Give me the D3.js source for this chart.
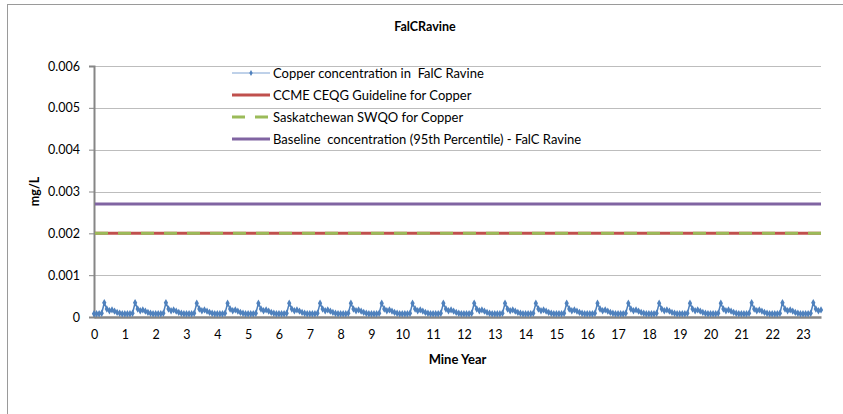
<!DOCTYPE html>
<html>
<head>
<meta charset="utf-8">
<script src="https://cdn.jsdelivr.net/npm/d3@7"></script>
<style>
  html, body { margin: 0; padding: 0; background: #fff; }
  svg { display: block; }
  text { font-family: Lato, "Open Sans", sans-serif; fill: #000; }
</style>
</head>
<body>
<svg id="chart" width="843" height="414"></svg>
<script>
// ---------- data ----------
const title = "FalCRavine";
const xTitle = "Mine Year";
const yTitle = "mg/L";
const xTicks = d3.range(0, 24);             // 0 .. 23
const yTicks = [0, 0.001, 0.002, 0.003, 0.004, 0.005, 0.006];
const yTickLabels = ["0", "0.001", "0.002", "0.003", "0.004", "0.005", "0.006"];

// Monthly copper concentration (mg/L), one row per mine year
const copperByYear = [
  [0.00008,0.00008,0.00008,0.00009,0.00034,0.00019,0.00015,0.00017,0.00014,0.00011,0.00009,0.00008],
  [0.00008,0.00008,0.00008,0.00009,0.00034,0.00019,0.00015,0.00017,0.00014,0.00011,0.00009,0.00008],
  [0.00008,0.00008,0.00008,0.00009,0.00034,0.00019,0.00015,0.00017,0.00014,0.00011,0.00009,0.00008],
  [0.00008,0.00008,0.00008,0.00009,0.00033,0.00019,0.00015,0.00017,0.00014,0.00011,0.00009,0.00008],
  [0.00008,0.00008,0.00008,0.00009,0.00033,0.00019,0.00015,0.00017,0.00014,0.00011,0.00009,0.00008],
  [0.00008,0.00008,0.00008,0.00009,0.00033,0.00019,0.00015,0.00017,0.00014,0.00011,0.00009,0.00008],
  [0.00008,0.00008,0.00008,0.00009,0.00033,0.00019,0.00015,0.00017,0.00014,0.00011,0.00009,0.00008],
  [0.00008,0.00008,0.00008,0.00009,0.00033,0.00019,0.00015,0.00017,0.00014,0.00011,0.00009,0.00008],
  [0.00008,0.00008,0.00008,0.00009,0.00033,0.00019,0.00015,0.00017,0.00014,0.00011,0.00009,0.00008],
  [0.00008,0.00008,0.00008,0.00009,0.00033,0.00019,0.00015,0.00017,0.00014,0.00011,0.00009,0.00008],
  [0.00008,0.00008,0.00008,0.00009,0.00033,0.00019,0.00015,0.00017,0.00014,0.00011,0.00009,0.00008],
  [0.00008,0.00008,0.00008,0.00009,0.00033,0.00019,0.00015,0.00017,0.00014,0.00011,0.00009,0.00008],
  [0.00008,0.00008,0.00008,0.00009,0.00033,0.00019,0.00015,0.00017,0.00014,0.00011,0.00009,0.00008],
  [0.00008,0.00008,0.00008,0.00009,0.00033,0.00019,0.00015,0.00017,0.00014,0.00011,0.00009,0.00008],
  [0.00008,0.00008,0.00008,0.00009,0.00033,0.00019,0.00015,0.00017,0.00014,0.00011,0.00009,0.00008],
  [0.00008,0.00008,0.00008,0.00009,0.00033,0.00019,0.00015,0.00017,0.00014,0.00011,0.00009,0.00008],
  [0.00008,0.00008,0.00008,0.00009,0.00033,0.00019,0.00015,0.00017,0.00014,0.00011,0.00009,0.00008],
  [0.00008,0.00008,0.00008,0.00009,0.00033,0.00019,0.00015,0.00017,0.00014,0.00011,0.00009,0.00008],
  [0.00008,0.00008,0.00008,0.00009,0.00033,0.00019,0.00015,0.00017,0.00014,0.00011,0.00009,0.00008],
  [0.00008,0.00008,0.00008,0.00009,0.00033,0.00019,0.00015,0.00017,0.00014,0.00011,0.00009,0.00008],
  [0.00008,0.00008,0.00008,0.00009,0.00033,0.00019,0.00015,0.00017,0.00014,0.00011,0.00009,0.00008],
  [0.00008,0.00008,0.00008,0.00009,0.00034,0.00019,0.00015,0.00017,0.00014,0.00011,0.00009,0.00008],
  [0.00008,0.00008,0.00008,0.00009,0.00034,0.00019,0.00015,0.00017,0.00014,0.00011,0.00009,0.00008],
  [0.00008,0.00008,0.00008,0.00009,0.00034,0.00019,0.00015,0.00017]
];
const monthsPerYear = 12;

const ccmeGuideline = 0.002;      // CCME CEQG Guideline for Copper
const saskSWQO = 0.002;           // Saskatchewan SWQO for Copper
const baseline95 = 0.0027;        // Baseline concentration (95th percentile)

const legendLabels = [
  "Copper concentration in  FalC Ravine",
  "CCME CEQG Guideline for Copper",
  "Saskatchewan SWQO for Copper",
  "Baseline  concentration (95th Percentile) - FalC Ravine"
];
const colors = { copper: "#4F81BD", ccme: "#C0504D", sask: "#9BBB59", base: "#8064A2" };

// ---------- build ----------
const copper = [];
copperByYear.forEach((row, yr) => row.forEach((v, m) => copper.push({ t: yr + m / monthsPerYear, v })));
const tMax = copper[copper.length - 1].t;

const svg = d3.select("#chart");
const plot = { left: 94, right: 821, top: 66, bottom: 317 };

const x = d3.scaleLinear().domain([0, tMax]).range([plot.left, plot.right]);
const y = d3.scaleLinear().domain([0, 0.006]).range([plot.bottom, plot.top]);

// outer chart border (extends beyond the cropped view)
svg.append("rect").attr("x", 7.5).attr("y", 4.5).attr("width", 1000).attr("height", 1000)
  .attr("fill", "none").attr("stroke", "#9a9a9a").attr("stroke-width", 1);

// title
svg.append("text").attr("x", 425).attr("y", 31).attr("text-anchor", "middle")
  .attr("font-weight", "bold").attr("font-size", 12.5).text(title);

// gridlines
svg.append("g").selectAll("line").data(yTicks.filter(d => d > 0)).join("line")
  .attr("x1", plot.left).attr("x2", plot.right)
  .attr("y1", d => Math.round(y(d)) + 0.5).attr("y2", d => Math.round(y(d)) + 0.5)
  .attr("stroke", "#bdbdbd").attr("stroke-width", 1);

// y axis
const yAxis = d3.axisLeft(y).tickValues(yTicks).tickSize(5).tickPadding(9)
  .tickFormat((d, i) => yTickLabels[i]);
const gy = svg.append("g").attr("transform", `translate(${plot.left},0)`).call(yAxis);
gy.select(".domain").attr("stroke", "#868686").attr("stroke-width", 2);
gy.selectAll(".tick line").attr("stroke", "#868686");
gy.selectAll(".tick text").attr("font-size", 12.5).attr("font-family", "Lato, sans-serif").attr("fill", "#000");

// x axis
const xAxis = d3.axisBottom(x).tickValues(xTicks).tickSize(0).tickPadding(13).tickFormat(d3.format("d"));
const gx = svg.append("g").attr("transform", `translate(0,${plot.bottom})`).call(xAxis);
gx.select(".domain").attr("stroke", "#868686").attr("stroke-width", 2.5);
gx.selectAll(".tick text").attr("font-size", 12.5).attr("font-family", "Lato, sans-serif").attr("fill", "#000");

// axis titles
svg.append("text").attr("x", (plot.left + plot.right) / 2).attr("y", 364).attr("text-anchor", "middle")
  .attr("font-weight", "bold").attr("font-size", 13).text(xTitle);
svg.append("text").attr("transform", `translate(39,${(plot.top + plot.bottom) / 2}) rotate(-90)`)
  .attr("text-anchor", "middle").attr("font-weight", "bold").attr("font-size", 12.5).text(yTitle);

// reference lines
const hline = (val, color, dash) => svg.append("line")
  .attr("x1", plot.left + 1).attr("x2", plot.right).attr("y1", y(val)).attr("y2", y(val))
  .attr("stroke", color).attr("stroke-width", 3).attr("stroke-dasharray", dash || null);
hline(baseline95, colors.base);
hline(ccmeGuideline, colors.ccme);
hline(saskSWQO, colors.sask, "13,10");

// copper series
const line = d3.line().x(d => x(d.t)).y(d => y(d.v));
svg.append("path").datum(copper).attr("d", line).attr("fill", "none")
  .attr("stroke", colors.copper).attr("stroke-width", 1.5);
const diamond = d3.symbol().type(d3.symbolDiamond).size(16);
svg.append("g").selectAll("path").data(copper).join("path")
  .attr("transform", d => `translate(${x(d.t)},${y(d.v)})`).attr("d", diamond)
  .attr("fill", colors.copper);

// legend
const lg = svg.append("g");
const rowY = [73, 95, 117, 139];
const lx0 = 232, lx1 = 270, ltx = 273;
const legendDiamond = d3.symbol().type(d3.symbolDiamond).size(10);
lg.append("line").attr("x1", lx0).attr("x2", lx1).attr("y1", rowY[0]).attr("y2", rowY[0])
  .attr("stroke", "#7FA3D3").attr("stroke-width", 1);
lg.append("path").attr("transform", `translate(${(lx0 + lx1) / 2},${rowY[0]})`).attr("d", legendDiamond).attr("fill", colors.copper);
lg.append("line").attr("x1", lx0).attr("x2", lx1).attr("y1", rowY[1]).attr("y2", rowY[1])
  .attr("stroke", colors.ccme).attr("stroke-width", 3);
lg.append("line").attr("x1", lx0).attr("x2", lx1).attr("y1", rowY[2]).attr("y2", rowY[2])
  .attr("stroke", colors.sask).attr("stroke-width", 3).attr("stroke-dasharray", "13,10");
lg.append("line").attr("x1", lx0).attr("x2", lx1).attr("y1", rowY[3]).attr("y2", rowY[3])
  .attr("stroke", colors.base).attr("stroke-width", 3);
lg.selectAll("text").data(legendLabels).join("text")
  .attr("x", ltx).attr("y", (d, i) => rowY[i]).attr("dy", "0.35em")
  .attr("font-size", 13).attr("xml:space", "preserve").style("white-space", "pre").text(d => d);
</script>
</body>
</html>
